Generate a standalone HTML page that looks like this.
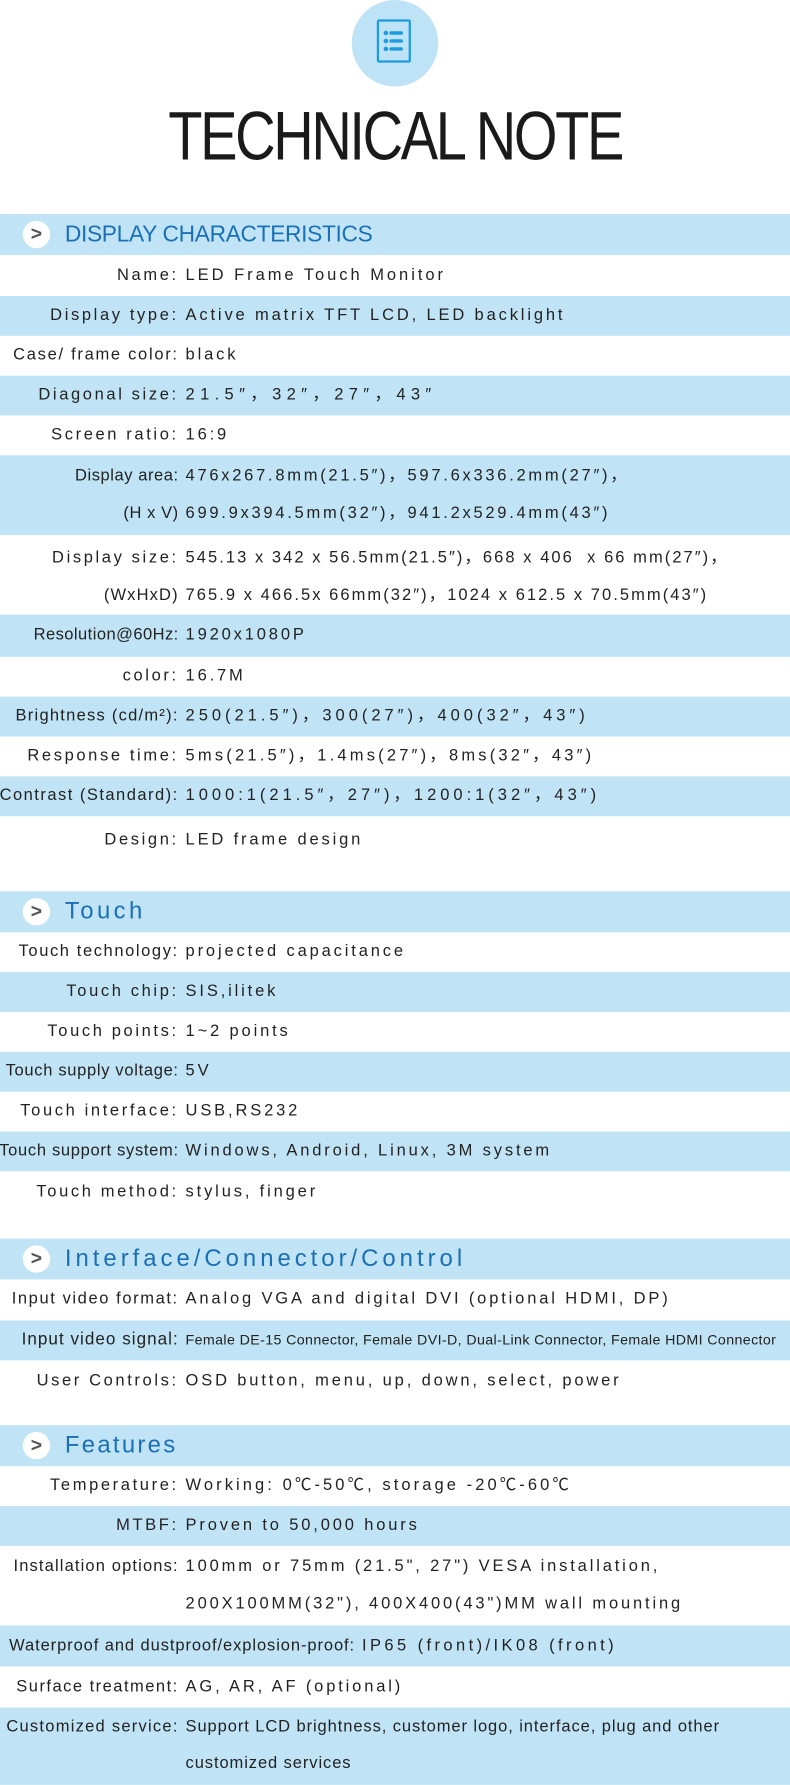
<!DOCTYPE html>
<html><head><meta charset="utf-8"><style>
html,body{margin:0;padding:0;background:#fff;}
body{width:790px;height:1785px;overflow:hidden;position:relative;}
#w{position:absolute;left:0;top:0;width:694px;height:1568px;transform:scale(1.13833);transform-origin:0 0;font-family:"Liberation Sans","Noto Sans CJK SC",sans-serif;color:#222;}
.r{position:absolute;left:0;width:694px;}
.b{background:#c0e4f6;}
.ln{position:absolute;left:0;width:694px;height:34px;line-height:34px;font-size:14.5px;letter-spacing:2.5px;white-space:nowrap;}
.l{position:absolute;right:537px;text-align:right;letter-spacing:2.3px;}
.v{position:absolute;left:163px;}
.n{font-size:14.5px;}
.sm{letter-spacing:0.33px;font-size:12.5px;}
.h{position:absolute;left:0;width:694px;height:36px;background:#c0e4f6;}
.h .c{position:absolute;left:20px;top:6px;width:24px;height:24px;border-radius:50%;background:#fff;color:#555;font-weight:bold;font-size:17px;line-height:23px;text-align:center;}
.h .t{position:absolute;left:57px;top:0;line-height:36px;font-size:21px;color:#1a6fb5;letter-spacing:2px;white-space:nowrap;}
</style></head><body><div id="w">
<div style="position:absolute;left:309px;top:0;width:76px;height:76px;border-radius:50%;background:#bfe3f6;"></div>
<div style="position:absolute;left:331px;top:17px;width:30px;height:38px;border:2.5px solid #1e9be0;border-radius:2px;box-sizing:border-box;"></div>
<svg style="position:absolute;left:331px;top:17px" width="30" height="38"><g fill="#1e9be0"><circle cx="8" cy="12" r="2"/><circle cx="8" cy="19" r="2"/><circle cx="8" cy="26" r="2"/><rect x="11" y="10.5" width="12" height="3" rx="1.5"/><rect x="11" y="17.5" width="12" height="3" rx="1.5"/><rect x="11" y="24.5" width="12" height="3" rx="1.5"/></g></svg>
<div style="position:absolute;left:0;width:694px;top:88px;text-align:center;"><span style="display:inline-block;font-size:60px;line-height:64px;color:#1a1a1a;letter-spacing:-2.5px;transform:scaleX(0.82);">TECHNICAL NOTE</span></div>

<div class="h" style="top:188px"><div class="c">&gt;</div><div class="t" style="letter-spacing:-0.3px;font-size:20px">DISPLAY CHARACTERISTICS</div></div>
<div class="r" style="top:224px;height:36px"><div class="ln" style="top:1px"><span class="l">Name:</span><span class="v" style="letter-spacing:2.6px">LED Frame Touch Monitor</span></div></div>
<div class="r b" style="top:260px;height:35px"><div class="ln"><span class="l">Display type:</span><span class="v">Active matrix TFT LCD, LED backlight</span></div></div>
<div class="r" style="top:295px;height:35px"><div class="ln"><span class="l n" style="letter-spacing:1.5px">Case/ frame color:</span><span class="v">black</span></div></div>
<div class="r b" style="top:330px;height:35px"><div class="ln"><span class="l">Diagonal size:</span><span class="v" style="letter-spacing:4.7px">21.5″，32″，27″，43″</span></div></div>
<div class="r" style="top:365px;height:35px"><div class="ln"><span class="l">Screen ratio:</span><span class="v">16:9</span></div></div>
<div class="r b" style="top:400px;height:70px"><div class="ln" style="top:1px"><span class="l n" style="letter-spacing:0.5px">Display area:</span><span class="v" style="letter-spacing:2.4px">476x267.8mm(21.5″)，597.6x336.2mm(27″)，</span></div><div class="ln" style="top:34px"><span class="l n" style="letter-spacing:0.5px">(H x V)</span><span class="v" style="letter-spacing:2.4px">699.9x394.5mm(32″)，941.2x529.4mm(43″)</span></div></div>
<div class="r" style="top:470px;height:70px"><div class="ln" style="top:3px"><span class="l">Display size:</span><span class="v" style="letter-spacing:1.8px">545.13 x 342 x 56.5mm(21.5″)，668 x 406&nbsp; x 66 mm(27″)，</span></div><div class="ln" style="top:36px"><span class="l n" style="letter-spacing:1px">(WxHxD)</span><span class="v" style="letter-spacing:1.8px">765.9 x 466.5x 66mm(32″)，1024 x 612.5 x 70.5mm(43″)</span></div></div>
<div class="r b" style="top:540px;height:37px"><div class="ln" style="top:1px"><span class="l n" style="letter-spacing:0.4px">Resolution@60Hz:</span><span class="v">1920x1080P</span></div></div>
<div class="r" style="top:577px;height:35px"><div class="ln"><span class="l">color:</span><span class="v">16.7M</span></div></div>
<div class="r b" style="top:612px;height:35px"><div class="ln"><span class="l n" style="letter-spacing:1.1px">Brightness (cd/m²):</span><span class="v" style="letter-spacing:3.5px">250(21.5″)，300(27″)，400(32″，43″)</span></div></div>
<div class="r" style="top:647px;height:35px"><div class="ln"><span class="l">Response time:</span><span class="v" style="letter-spacing:2.8px">5ms(21.5″)，1.4ms(27″)，8ms(32″，43″)</span></div></div>
<div class="r b" style="top:682px;height:35px"><div class="ln"><span class="l n" style="letter-spacing:1.3px">Contrast (Standard):</span><span class="v" style="letter-spacing:3.5px">1000:1(21.5″，27″)，1200:1(32″，43″)</span></div></div>
<div class="r" style="top:717px;height:43px"><div class="ln" style="top:4px"><span class="l">Design:</span><span class="v">LED frame design</span></div></div>

<div class="h" style="top:783px"><div class="c">&gt;</div><div class="t" style="letter-spacing:3px">Touch</div></div>
<div class="r" style="top:819px;height:35px"><div class="ln"><span class="l n" style="letter-spacing:1.4px">Touch technology:</span><span class="v">projected capacitance</span></div></div>
<div class="r b" style="top:854px;height:35px"><div class="ln"><span class="l">Touch chip:</span><span class="v">SIS,ilitek</span></div></div>
<div class="r" style="top:889px;height:35px"><div class="ln"><span class="l">Touch points:</span><span class="v">1~2 points</span></div></div>
<div class="r b" style="top:924px;height:35px"><div class="ln"><span class="l n" style="letter-spacing:0.6px">Touch supply voltage:</span><span class="v">5V</span></div></div>
<div class="r" style="top:959px;height:35px"><div class="ln"><span class="l">Touch interface:</span><span class="v">USB,RS232</span></div></div>
<div class="r b" style="top:994px;height:35px"><div class="ln"><span class="l n" style="letter-spacing:0.6px">Touch support system:</span><span class="v">Windows, Android, Linux, 3M system</span></div></div>
<div class="r" style="top:1029px;height:40px"><div class="ln" style="top:1px"><span class="l">Touch method:</span><span class="v">stylus, finger</span></div></div>

<div class="h" style="top:1088px"><div class="c">&gt;</div><div class="t" style="letter-spacing:3.5px">Interface/Connector/Control</div></div>
<div class="r" style="top:1124px;height:36px"><div class="ln"><span class="l n" style="letter-spacing:1.4px">Input video format:</span><span class="v">Analog VGA and digital DVI (optional HDMI, DP)</span></div></div>
<div class="r b" style="top:1160px;height:35px"><div class="ln"><span class="l n" style="letter-spacing:0.9px;font-size:15px">Input video signal:</span><span class="v sm">Female DE-15 Connector, Female DVI-D, Dual-Link Connector, Female HDMI Connector</span></div></div>
<div class="r" style="top:1195px;height:38px"><div class="ln" style="top:1px"><span class="l">User Controls:</span><span class="v">OSD button, menu, up, down, select, power</span></div></div>

<div class="h" style="top:1252px"><div class="c">&gt;</div><div class="t">Features</div></div>
<div class="r" style="top:1288px;height:35px"><div class="ln"><span class="l">Temperature:</span><span class="v" style="letter-spacing:2.7px">Working: 0℃-50℃, storage -20℃-60℃</span></div></div>
<div class="r b" style="top:1323px;height:35px"><div class="ln"><span class="l">MTBF:</span><span class="v">Proven to 50,000 hours</span></div></div>
<div class="r" style="top:1358px;height:70px"><div class="ln" style="top:1px"><span class="l n" style="letter-spacing:1px">Installation options:</span><span class="v">100mm or 75mm (21.5", 27") VESA installation,</span></div><div class="ln" style="top:34px"><span class="v">200X100MM(32"), 400X400(43")MM wall mounting</span></div></div>
<div class="r b" style="top:1428px;height:36px"><div class="ln" style="top:1px"><span style="position:absolute;left:8px;letter-spacing:0.8px">Waterproof and dustproof/explosion-proof:</span><span style="position:absolute;left:318px;letter-spacing:3px">IP65 (front)/IK08 (front)</span></div></div>
<div class="r" style="top:1464px;height:36px"><div class="ln" style="top:1px"><span class="l n" style="letter-spacing:1.3px">Surface treatment:</span><span class="v">AG, AR, AF (optional)</span></div></div>
<div class="r b" style="top:1500px;height:68px"><div class="ln" style="top:0px"><span class="l n" style="letter-spacing:1.1px">Customized service:</span><span class="v" style="letter-spacing:0.8px">Support LCD brightness, customer logo, interface, plug and other</span></div><div class="ln" style="top:32px"><span class="v" style="letter-spacing:0.8px">customized services</span></div></div>
</div></body></html>
